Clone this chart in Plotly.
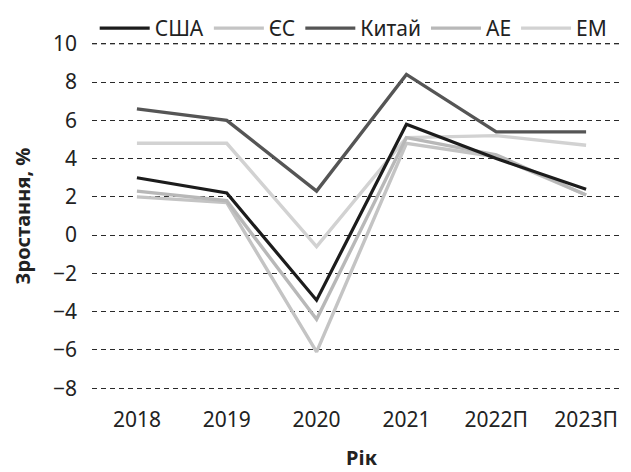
import plotly.graph_objects as go

years = ["2018", "2019", "2020", "2021", "2022П", "2023П"]
usa = [3.0, 2.2, -3.4, 5.8, 4.0, 2.4]
eu = [2.0, 1.7, -6.1, 4.8, 4.1, 2.1]
china = [6.6, 6.0, 2.3, 8.4, 5.4, 5.4]
ae = [2.3, 1.8, -4.4, 5.1, 4.2, 2.1]
em = [4.8, 4.8, -0.6, 5.1, 5.2, 4.7]
y_ticks = [-8, -6, -4, -2, 0, 2, 4, 6, 8, 10]

# name, values, colour, width, legend rank, draw order
series = [
    ("США", usa, "#1c1c1c", 3.2, 1, 5),
    ("ЄС", eu, "#c4c4c4", 3.4, 2, 2),
    ("Китай", china, "#555555", 3.4, 3, 4),
    ("АЕ", ae, "#b8b8b8", 3.4, 4, 3),
    ("ЕМ", em, "#d2d2d2", 3.4, 5, 1),
]

fig = go.Figure()
for name, vals, color, w, rank, order in sorted(series, key=lambda s: s[5]):
    fig.add_trace(go.Scatter(x=years, y=vals, name=name, mode="lines", legendrank=rank,
                             line=dict(color=color, width=w)))

# top gridline (Plotly skips the one nearest the plot edge)
fig.add_hline(y=y_ticks[-1], line=dict(color="#2a2a2a", width=1, dash="5px,4px"), layer="below")

font = "Noto Sans"
fig.update_layout(
    width=623, height=464,
    margin=dict(l=84, r=0, t=32, b=80, autoexpand=False),
    paper_bgcolor="white", plot_bgcolor="white",
    font=dict(family=font, size=21, color="#222222"),
    showlegend=True,
    legend=dict(orientation="h", x=0.005, xanchor="left", y=1.0909, yanchor="top",
                font=dict(size=21, family=font), itemwidth=50,
                bgcolor="rgba(0,0,0,0)"),
    xaxis=dict(type="category", range=[-0.5, 5.5], showgrid=False, showline=False,
               zeroline=False, ticks="", tickfont=dict(size=21), ticklabelstandoff=13,
               title=dict(text="<b>Рік</b>", font=dict(size=20), standoff=18)),
    yaxis=dict(range=[-8.2, 10.2], tickvals=y_ticks, ticktext=[str(v).replace("-", "−") for v in y_ticks],
               showgrid=True, gridcolor="#2a2a2a", gridwidth=1, griddash="5px,4px",
               zeroline=False, showline=False, ticks="", tickfont=dict(size=21),
               ticklabelstandoff=14,
               title=dict(text="<b>Зростання, %</b>", font=dict(size=20), standoff=16)),
)

fig.write_html("out.html")
